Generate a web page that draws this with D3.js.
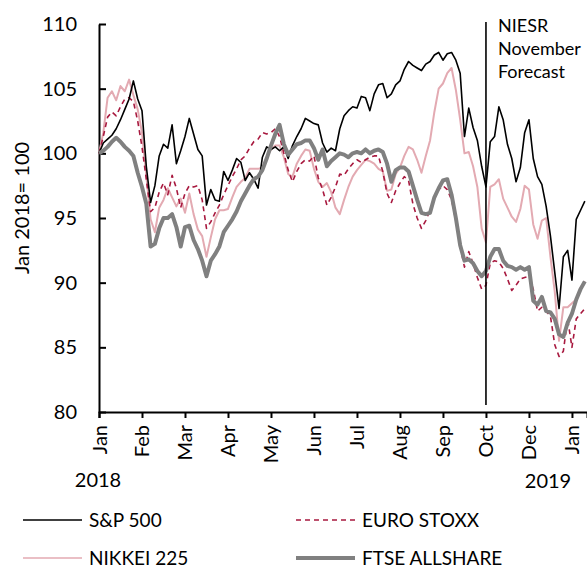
<!DOCTYPE html>
<html>
<head>
<meta charset="utf-8">
<script src="https://cdn.jsdelivr.net/npm/d3@7"></script>
<style>
  body { margin: 0; background: #fff; }
  svg { display: block; }
  text { font-family: "Gill Sans", "Gill Sans MT", Lato, sans-serif; fill: #000; }
  .axis path, .axis line { stroke: #000; stroke-width: 2; }
  .axis text { font-size: 20px; }
</style>
</head>
<body>
<script>
// tick labels on the time axis (about 10 points per month)
var tickIndex = [0, 10, 20, 30, 40, 50, 60, 70, 80, 90, 100, 110]
var tickLabels = ["Jan", "Feb", "Mar", "Apr", "May", "Jun", "Jul", "Aug", "Sep", "Oct", "Dec", "Jan"]
var yTicks = [80, 85, 90, 95, 100, 105, 110]

// index values, Jan 2018 = 100
var sp500 = [100, 100.8, 101.1, 101.4, 101.9, 102.6, 103.4, 104.2, 105.6, 104.2,
  103.3, 99, 96.2, 97.5, 99.8, 100.7, 100.4, 102.2, 99.2, 100.2,
  101.3, 102.7, 101.5, 100.3, 99.8, 96.0, 97.2, 96.4, 96.3, 98.6,
  97.9, 98.7, 99.6, 99.3, 97.9, 98.5, 98.0, 97.3, 99.7, 100.5,
  100.3, 100.5, 100.2, 100.5, 99.6, 100.6, 101.3, 101.9, 102.7, 102.5,
  102.3, 102.2, 100.8, 100.1, 100.4, 100.2, 101.9, 102.9, 103.3, 103.6,
  103.5, 104.4, 104.3, 103.3, 104.6, 105.3, 105.4, 104.3, 104.6, 105.3,
  105.6, 106.5, 107.1, 106.8, 106.6, 106.4, 106.9, 107.1, 107.6, 107.8,
  107.2, 107.7, 107.8, 107.2, 106.2, 101.3, 103.5, 102.0, 101.0, 99.0,
  97.4, 100.9, 101.3, 103.6, 102.6, 100.7, 99.6, 97.8, 98.9, 101.6,
  102.6, 99.6, 98.2, 97.6, 95.9, 93.6, 90.8, 88.0, 92.0, 92.5,
  90.2, 94.9, 95.6, 96.3]

var euroStoxx = [100, 101.3, 102.8, 103.2, 102.9, 103.6, 104.2, 104.3, 104.0, 102.5,
  100.5, 98.0, 95.5, 95.8, 97.0, 97.7, 96.8, 98.3, 97.3, 95.8,
  96.9, 97.5, 97.4, 97.5, 96.4, 94.2, 94.7, 95.4, 96.0, 96.8,
  97.5, 98.2, 98.8, 99.5, 99.8, 100.4, 100.9, 101.1, 101.6, 101.5,
  101.6, 101.9, 101.3, 100.0, 98.7, 97.8, 98.6, 99.2, 99.5, 99.4,
  99.8, 98.1, 97.2, 96.0, 96.6, 97.4, 98.4, 98.3, 98.8, 99.2,
  99.5, 99.3, 99.5, 99.7, 99.8, 99.8, 98.6, 96.9, 96.2, 97.1,
  97.7, 98.2, 97.9, 96.1, 95.0, 94.2, 94.8, 95.6, 96.5, 97.2,
  97.5, 97.2, 96.4, 94.8, 92.8, 91.2, 92.4, 91.5, 90.4, 89.5,
  89.8, 91.5, 91.7, 91.6, 91.1, 90.3, 89.4, 89.8, 90.3, 90.4,
  90.5, 89.5, 87.8, 88.1, 87.8, 87.4, 85.2, 84.3, 84.7, 87.2,
  85.0, 87.2, 87.6, 88.0]

var nikkei = [100, 101.6, 104.3, 104.8, 104.1, 105.2, 104.8, 105.7, 104.5, 103.4,
  101.6, 98.3, 94.9, 93.9, 95.8, 96.4, 97.3, 96.6, 95.9, 96.5,
  95.4, 96.9, 95.3, 94.1, 93.6, 92.0, 93.5, 94.9, 95.6, 95.6,
  95.7, 96.6, 97.4, 97.8, 98.1, 98.8, 98.8, 98.8, 98.9, 99.7,
  100.3, 100.6, 100.6, 99.7, 98.4, 98.2, 99.2, 99.8, 100.3, 100.2,
  98.8, 97.8, 97.4, 97.7, 97.0, 95.8, 95.3, 96.4, 97.4, 98.2,
  98.7, 99.1, 99.5, 99.4, 99.2, 98.8, 98.6, 97.1, 97.2, 98.4,
  98.9, 99.8, 100.5, 100.3, 99.5, 98.5, 99.8, 101.0, 103.2, 105.0,
  105.4, 106.2, 106.6, 104.9, 102.6, 100.0, 100.1, 99.0, 97.4, 94.2,
  93.1, 97.4, 97.6, 98.0, 96.5, 95.8, 95.1, 94.7, 95.7, 97.5,
  97.2, 94.5, 93.4, 94.8, 95.0, 92.0, 89.3, 85.5, 88.1, 88.1,
  88.4, 88.7, 89.6, 90.1]

var ftse = [100, 100.2, 100.5, 100.9, 101.2, 100.9, 100.5, 100.2, 99.8, 98.5,
  97.4, 96.1, 92.8, 93.0, 94.2, 95.0, 95.0, 95.3, 94.3, 92.8,
  94.3, 94.4, 93.3, 92.6, 91.7, 90.5, 91.7, 92.2, 92.8, 93.9,
  94.4, 94.9, 95.5, 96.3, 96.9, 97.5, 98.0, 98.2, 98.7, 99.6,
  100.6, 101.5, 102.2, 100.7, 99.9, 100.3, 100.7, 100.8, 101.0, 101.0,
  100.4, 99.5, 100.3, 99.0, 99.4, 99.7, 100.0, 99.9, 99.7, 100.0,
  100.1, 100.0, 100.3, 100.0, 100.2, 100.3, 100.1, 99.2, 97.8, 98.7,
  98.9, 98.9, 98.6, 97.5, 96.4, 95.4, 95.3, 95.4, 96.6, 97.3,
  97.9, 98.0, 96.8, 95.0, 92.9, 91.7, 91.8, 91.5, 90.9, 90.5,
  90.9, 92.0, 92.6, 92.6, 91.7, 91.3, 91.2, 91.0, 91.2, 91.0,
  91.2, 88.6, 88.3, 88.9, 87.8, 87.7, 87.2, 86.0, 85.8, 86.9,
  87.6, 88.7, 89.5, 90.1]

var forecastIndex = 90

var width = 587, height = 569
var margin = {top: 24, right: 0, bottom: 157, left: 99}

var svg = d3.select("body").append("svg")
    .attr("width", width)
    .attr("height", height)

var x = d3.scaleLinear()
    .domain([0, 113.5])
    .range([margin.left, width - margin.right])
var y = d3.scaleLinear()
    .domain([80, 110])
    .range([height - margin.bottom, margin.top])

// y axis, ticks pointing into the plot
svg.append("g")
    .attr("class", "axis")
    .attr("transform", "translate(" + margin.left + ",0)")
    .call(d3.axisLeft(y).tickValues(yTicks).tickSizeInner(-7).tickSizeOuter(0).tickPadding(22))

// x axis with rotated month labels
svg.append("g")
    .attr("class", "axis")
    .attr("transform", "translate(0," + y(80) + ")")
    .call(d3.axisBottom(x).tickValues(tickIndex).tickSizeOuter(0).tickSize(6)
        .tickFormat(function(d, i) { return tickLabels[i] }))
    .selectAll("text")
      .attr("y", 0)
      .attr("x", -13)
      .attr("dy", ".35em")
      .attr("transform", "rotate(-90)")
      .style("text-anchor", "end")

svg.append("text")
    .attr("x", 98).attr("y", 487)
    .attr("text-anchor", "middle")
    .style("font-size", "20px")
    .text("2018")
svg.append("text")
    .attr("x", 548).attr("y", 488)
    .attr("text-anchor", "middle")
    .style("font-size", "20px")
    .text("2019")

svg.append("text")
    .attr("transform", "translate(29," + 208 + ") rotate(-90)")
    .attr("text-anchor", "middle")
    .style("font-size", "20px")
    .text("Jan 2018= 100")

// series
var line = d3.line()
    .x(function(d, i) { return x(i) })
    .y(function(d) { return y(d) })

var series = [
  {name: "NIKKEI 225", values: nikkei, color: "#e3aab2", w: 2, dash: null},
  {name: "EURO STOXX", values: euroStoxx, color: "#a8193f", w: 1.6, dash: "5,4"},
  {name: "S&P 500", values: sp500, color: "#000", w: 1.6, dash: null},
  {name: "FTSE ALLSHARE", values: ftse, color: "#808080", w: 4, dash: null}
]

series.forEach(function(s) {
  svg.append("path")
      .datum(s.values)
      .attr("fill", "none")
      .attr("stroke", s.color)
      .attr("stroke-width", s.w)
      .attr("stroke-dasharray", s.dash)
      .attr("stroke-linejoin", "round")
      .attr("d", line)
})

// forecast marker
svg.append("line")
    .attr("x1", x(forecastIndex)).attr("x2", x(forecastIndex))
    .attr("y1", 22).attr("y2", 405)
    .attr("stroke", "#000")
    .attr("stroke-width", 1.6)

var note = svg.append("text")
    .attr("x", x(forecastIndex) + 12)
    .attr("y", 32)
    .style("font-size", "18px")
note.selectAll("tspan")
    .data(["NIESR", "November", "Forecast"])
    .enter().append("tspan")
      .attr("x", x(forecastIndex) + 12)
      .attr("dy", function(d, i) { return i == 0 ? 0 : 23 })
      .text(function(d) { return d })

// legend
var legendItems = [
  {s: series[2], lx: 23, ly: 520},
  {s: series[1], lx: 296, ly: 520},
  {s: series[0], lx: 23, ly: 558},
  {s: series[3], lx: 296, ly: 558}
]

legendItems.forEach(function(d) {
  svg.append("line")
      .attr("x1", d.lx).attr("x2", d.lx + 59)
      .attr("y1", d.ly).attr("y2", d.ly)
      .attr("stroke", d.s.color)
      .attr("stroke-width", d.s.w == 4 ? 4 : 1.6)
      .attr("stroke-dasharray", d.s.dash)
  svg.append("text")
      .attr("x", d.lx + 66)
      .attr("y", d.ly)
      .attr("dy", ".35em")
      .style("font-size", "19px")
      .text(d.s.name)
})
</script>
</body>
</html>
